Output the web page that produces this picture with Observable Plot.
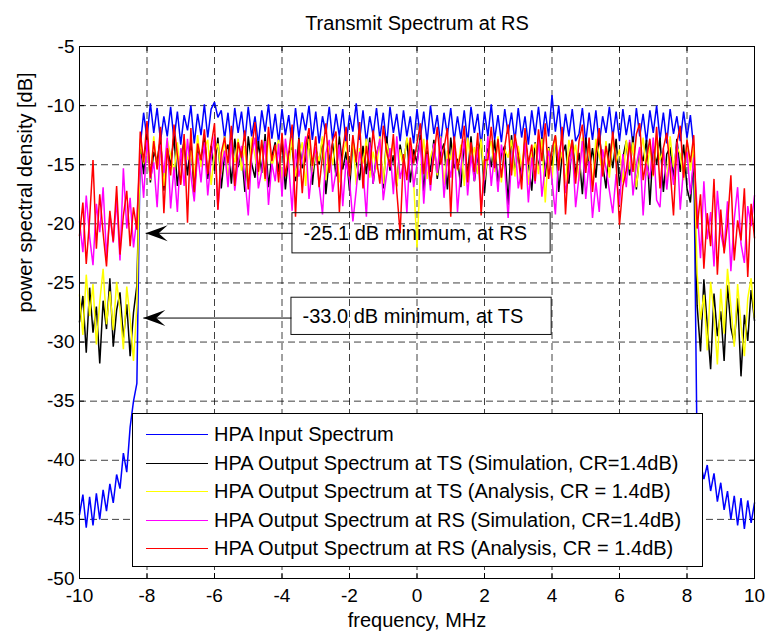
<!DOCTYPE html>
<html>
<head>
<meta charset="utf-8">
<script src="https://cdn.jsdelivr.net/npm/d3@7"></script>
<script src="https://cdn.jsdelivr.net/npm/@observablehq/plot@0.6"></script>
<style>
  html, body { margin: 0; padding: 0; background: #fff; }
  #wrap { position: relative; width: 769px; height: 632px; font-family: "Liberation Sans", Arial, Helvetica, sans-serif; }
  #legend { position: absolute; left: 132px; top: 413px; width: 569px; height: 152px; border: 1px solid #000; background: #fff; box-sizing: content-box; }
  .row { position: absolute; left: 0; height: 28px; }
  .sw { position: absolute; left: 13px; width: 62px; height: 0; border-top: 1px solid; }
  .lt { position: absolute; left: 81px; white-space: nowrap; font-size: 20px; color: #000; line-height: 28px; }
</style>
</head>
<body>
<div id="wrap"></div>
<script>
// ---------------- data ----------------
const titleText = "Transmit Spectrum at RS";
const xLabel = "frequency, MHz";
const yLabel = "power spectral density [dB]";
const xTicks = [-10, -8, -6, -4, -2, 0, 2, 4, 6, 8, 10];
const yTicks = [-50, -45, -40, -35, -30, -25, -20, -15, -10, -5];

// frequency sample grid, MHz (-10 ... 10, step 0.1)
const freqMHz = d3.range(0, 201).map(i => Math.round((-10 + i * 0.1) * 10) / 10);

// HPA Input Spectrum (blue)
const hpaInput = [
  -44.6,-42.9,-45.7,-43.1,-45.5,-42.8,-45.0,-42.5,-44.3,-42.0,-43.6,-41.2,-42.4,-39.4,-41.0,-37.2,-35.0,-33.5,
  -13.4,-10.6,-12.8,-9.8,-12.3,-10.2,-13.0,-10.9,-12.6,-10.1,
  -12.9,-10.5,-13.3,-10.8,-12.1,-10.0,-13.2,-10.7,-12.5,-9.9,
  -12.7,-10.3,-9.7,-11.0,-10.4,-12.8,-10.6,-13.4,-10.2,-12.3,
  -10.5,-13.0,-10.1,-12.6,-10.9,-13.3,-10.4,-12.2,-9.9,-12.8,
  -10.7,-13.1,-10.3,-12.5,-10.8,-13.4,-10.2,-12.7,-10.6,-12.1,
  -10.0,-12.9,-10.5,-13.2,-10.9,-12.4,-10.1,-13.0,-10.7,-12.6,
  -10.3,-13.3,-10.8,-12.2,-9.8,-12.9,-10.4,-13.1,-10.9,-12.5,
  -10.2,-12.8,-10.6,-13.4,-10.1,-12.3,-10.7,-13.0,-10.4,-12.6,
  -10.9,-13.2,-10.3,-12.7,-10.5,-13.1,-10.0,-12.4,-10.8,-13.3,
  -10.6,-12.5,-10.2,-13.0,-10.9,-12.8,-10.4,-13.2,-10.1,-12.3,
  -10.7,-13.4,-10.5,-12.6,-9.9,-12.9,-10.8,-13.1,-10.3,-12.4,
  -10.6,-13.0,-10.2,-12.7,-10.9,-13.3,-10.4,-12.5,-10.1,-12.8,
  -10.5,-12.6,-9.1,-12.2,-10.0,-13.2,-10.7,-12.6,-10.3,-13.0,
  -12.4,-10.2,-13.1,-10.6,-12.9,-10.4,-13.3,-10.9,-12.3,-10.1,
  -12.7,-10.5,-13.0,-10.3,-12.5,-10.8,-13.4,-10.2,-12.6,-10.7,
  -13.1,-10.4,-12.3,-10.0,-12.9,-10.6,-13.2,-10.3,-12.4,-10.9,
  -13.0,-10.5,-12.7,-10.8,-13.6,
  -39.5,-40.2,-41.6,-40.4,-42.6,-41.1,-43.5,-41.9,-44.2,-42.6,-45.0,-43.0,-45.5,-43.2,-45.8,-43.4,-45.3,-43.6
];

// HPA Output Spectrum at TS (Simulation) (black)
const outTsSim = [
  -28.3,-26.1,-30.9,-25.4,-29.2,-27.0,-31.8,-26.5,-28.9,-24.6,-30.4,-27.3,-25.8,-29.7,-26.8,-31.2,-27.5,-25.2,
  -13.2,-15.8,-12.4,-16.5,-13.9,-14.7,-12.8,-17.2,-13.5,-15.1,
  -12.6,-16.8,-14.2,-13.1,-15.9,-12.9,-17.4,-13.7,-14.8,-12.5,
  -16.2,-13.4,-15.5,-12.7,-17.0,-14.1,-13.3,-16.6,-12.8,-15.2,
  -13.8,-17.3,-12.6,-14.9,-16.1,-13.0,-15.7,-12.4,-16.9,-14.3,
  -13.1,-15.6,-12.9,-17.1,-14.0,-13.5,-16.4,-12.7,-15.3,-14.6,
  -12.5,-16.7,-13.6,-15.0,-12.8,-17.5,-14.4,-13.2,-16.0,-12.6,
  -15.4,-13.9,-17.2,-12.9,-14.7,-16.3,-13.4,-15.8,-12.7,-16.6,
  -14.1,-13.0,-17.0,-12.6,-15.5,-14.2,-16.8,-13.3,-15.1,-12.8,
  -16.5,-13.7,-14.9,-12.5,-17.3,-13.8,-15.6,-12.9,-16.2,-14.0,
  -13.2,-17.1,-12.7,-15.3,-14.5,-16.9,-13.0,-15.9,-12.6,-16.4,
  -14.3,-12.8,-17.4,-13.6,-15.2,-12.9,-16.7,-14.1,-13.4,-18.4,
  -12.5,-15.7,-13.9,-16.3,-12.8,-14.8,-17.2,-13.1,-15.4,-12.7,
  -16.0,-13.5,-15.1,-12.6,-17.3,-14.2,-13.3,-16.6,-12.9,-15.8,
  -14.0,-17.5,-12.7,-15.5,-13.6,-16.1,-12.5,-14.9,-17.0,-13.2,
  -15.3,-12.8,-16.8,-14.4,-13.0,-15.9,-12.6,-17.1,-13.8,-14.7,
  -12.9,-18.4,-13.4,-15.0,-12.7,-17.3,-14.1,-13.5,-16.2,-12.8,
  -15.6,-13.3,-17.0,-18.2,-14.5,
  -26.9,-30.8,-24.7,-28.6,-32.3,-25.9,-29.5,-27.4,-31.6,-25.2,-28.8,-30.1,-26.3,-32.9,-27.7,-29.9,-25.6,-28.2
];

// HPA Output Spectrum at TS (Analysis) (yellow)
const outTsAna = [
  -26.0,-29.4,-24.3,-27.8,-25.1,-30.2,-26.6,-23.8,-28.5,-25.7,-29.0,-24.9,-27.2,-30.6,-25.3,-28.0,-31.6,-26.9,
  -12.8,-14.9,-13.5,-16.3,-12.6,-15.4,-13.9,-16.8,-12.9,-14.2,
  -15.7,-13.1,-16.5,-12.7,-14.6,-13.8,-16.0,-12.5,-15.2,-13.6,
  -12.9,-16.7,-14.0,-13.2,-15.8,-12.6,-16.2,-13.7,-14.8,-12.8,
  -15.5,-13.4,-16.9,-12.7,-14.3,-15.9,-13.0,-16.4,-12.6,-15.1,
  -14.1,-12.9,-16.6,-13.5,-15.3,-12.7,-16.0,-14.4,-13.1,-16.8,
  -12.8,-15.6,-13.8,-14.7,-12.6,-16.3,-13.3,-15.0,-12.9,-16.5,
  -14.2,-13.0,-15.9,-12.7,-16.7,-13.6,-14.9,-12.8,-16.1,-13.9,
  -15.4,-12.6,-16.6,-13.2,-14.5,-12.9,-16.9,-13.7,-15.2,-12.7,
  -14.0,-16.4,-22.0,-15.7,-12.8,-16.2,-14.3,-13.4,-15.9,-12.6,
  -16.7,-13.8,-14.6,-12.9,-15.5,-13.3,-16.8,-12.7,-14.8,-13.5,
  -15.8,-12.8,-16.3,-14.1,-13.0,-15.6,-12.6,-16.5,-13.7,-14.4,
  -12.9,-16.0,-13.4,-15.3,-12.7,-16.7,-14.0,-13.2,-15.8,-12.8,
  -18.2,-13.6,-16.2,-12.6,-15.1,-13.9,-16.6,-12.9,-14.5,-13.3,
  -16.4,-12.7,-15.0,-13.5,-16.8,-12.8,-14.2,-15.7,-13.0,-16.1,
  -12.6,-14.8,-13.7,-16.5,-12.9,-15.4,-13.1,-16.9,-14.3,-12.7,
  -15.9,-13.4,-16.0,-12.8,-14.6,-13.8,-16.7,-12.6,-15.2,-13.5,
  -14.1,-16.3,-12.9,-15.5,-13.2,
  -24.2,-28.1,-26.0,-30.7,-24.9,-27.6,-31.9,-25.5,-29.3,-23.8,-27.0,-30.4,-25.1,-28.6,-31.2,-26.3,-24.6,-27.9
];

// HPA Output Spectrum at RS (Simulation) (magenta)
const outRsSim = [
  -19.8,-22.4,-17.6,-21.1,-23.5,-18.3,-20.7,-16.9,-22.8,-19.2,-21.6,-18.0,-23.1,-15.3,-20.4,-17.8,-22.0,-19.5,
  -14.1,-17.8,-12.9,-16.2,-14.8,-18.6,-13.3,-15.7,-12.7,-18.7,
  -15.2,-19.0,-13.6,-16.8,-12.8,-15.9,-18.1,-14.0,-16.5,-13.1,
  -17.6,-14.5,-12.6,-18.8,-15.3,-13.8,-16.9,-12.9,-17.2,-14.7,
  -13.4,-16.1,-19.3,-14.2,-12.7,-17.0,-15.5,-13.0,-18.4,-14.9,
  -16.4,-13.2,-17.7,-12.8,-15.0,-18.9,-13.7,-16.0,-14.4,-12.6,
  -17.9,-15.1,-13.5,-16.7,-19.2,-14.0,-12.9,-17.3,-15.6,-13.3,
  -18.5,-14.6,-16.3,-19.8,-17.1,-13.9,-15.4,-19.4,-13.1,-16.6,
  -14.3,-12.8,-18.0,-15.8,-13.6,-17.5,-12.6,-16.2,-14.8,-19.1,
  -13.4,-16.9,-15.0,-12.9,-18.3,-14.1,-17.2,-13.2,-15.7,-12.7,
  -17.8,-14.5,-16.1,-13.0,-19.0,-15.3,-12.8,-17.6,-14.2,-16.4,
  -13.5,-18.7,-15.9,-12.6,-16.8,-14.0,-17.3,-13.3,-15.2,-19.5,
  -14.6,-12.9,-17.0,-15.5,-13.1,-18.2,-14.4,-16.6,-12.7,-17.7,
  -15.1,-13.8,-16.3,-19.2,-14.0,-12.8,-17.4,-15.6,-13.4,-18.6,
  -16.0,-13.0,-17.9,-14.7,-19.5,-16.5,-19.0,-13.7,-15.3,-17.2,
  -19.1,-15.8,-18.4,-14.1,-16.9,-12.9,-17.6,-15.0,-13.5,-19.3,
  -14.9,-16.2,-12.7,-18.0,-18.6,-13.6,-17.1,-14.3,-16.7,-13.1,
  -18.8,-15.2,-13.9,-17.5,-14.4,
  -18.7,-22.9,-16.4,-21.3,-19.0,-23.6,-17.2,-20.8,-22.2,-18.1,-24.0,-19.6,-16.9,-21.7,-23.3,-18.5,-20.2,-17.6
];

// HPA Output Spectrum at RS (Analysis) (red)
const outRsAna = [
  -21.0,-18.2,-23.4,-19.6,-14.6,-22.1,-17.5,-20.8,-23.6,-18.9,-21.5,-16.8,-22.6,-19.3,-17.2,-21.9,-18.6,-20.5,
  -12.2,-14.8,-11.3,-16.1,-13.0,-15.4,-11.8,-19.1,-13.6,-15.9,
  -11.6,-14.2,-16.7,-12.4,-19.9,-11.9,-17.3,-13.2,-14.6,-12.0,
  -15.8,-13.4,-11.5,-18.8,-14.0,-12.7,-14.9,-11.7,-16.8,-13.1,
  -14.4,-12.1,-17.1,-13.8,-11.4,-15.6,-12.9,-16.2,-11.8,-14.7,
  -13.3,-16.5,-12.3,-16.0,-14.0,-11.6,-19.4,-12.8,-17.4,-13.5,
  -11.9,-15.1,-12.6,-16.9,-14.2,-11.5,-15.7,-13.0,-12.2,-19.0,
  -13.7,-11.8,-16.0,-12.5,-14.8,-11.4,-17.0,-13.4,-15.5,-12.1,
  -14.5,-16.6,-11.7,-13.9,-15.2,-12.4,-17.2,-20.8,-14.1,-16.3,
  -12.7,-14.9,-13.2,-11.5,-15.8,-12.9,-16.7,-14.3,-11.8,-15.0,
  -13.6,-11.9,-19.4,-12.6,-15.4,-14.0,-11.7,-16.5,-13.1,-15.6,
  -12.3,-19.3,-14.6,-14.6,-11.8,-15.3,-12.8,-16.1,-13.5,-11.6,
  -15.9,-12.4,-14.2,-17.1,-11.9,-15.0,-13.3,-16.4,-12.0,-14.7,
  -11.5,-16.2,-13.7,-12.5,-15.5,-11.8,-19.2,-14.4,-12.9,-16.6,
  -13.0,-11.6,-15.7,-12.7,-17.3,-14.1,-11.9,-16.0,-13.4,-15.2,
  -12.2,-14.9,-20.1,-16.8,-15.5,-13.1,-15.6,-12.4,-11.5,-16.3,
  -14.5,-12.8,-15.9,-11.8,-17.0,-13.6,-12.3,-15.4,-19.3,-13.2,
  -11.7,-16.1,-12.9,-14.8,-12.5,
  -20.4,-17.5,-23.8,-19.1,-21.9,-16.2,-24.3,-18.8,-22.5,-20.0,-15.9,-23.1,-19.7,-21.4,-17.0,-24.5,-18.3,-21.2
];

const seriesNames = [
  "HPA Input Spectrum",
  "HPA Output Spectrum at TS (Simulation, CR=1.4dB)",
  "HPA Output Spectrum at TS (Analysis, CR = 1.4dB)",
  "HPA Output Spectrum at RS (Simulation, CR=1.4dB)",
  "HPA Output Spectrum at RS (Analysis, CR = 1.4dB)"
];
const seriesColors = ["#0000ff", "#000000", "#ffff00", "#ff00ff", "#ff0000"];
const seriesValues = [hpaInput, outTsSim, outTsAna, outRsSim, outRsAna];

// annotation text boxes with arrows (data units)
const annotations = [
  {label: "-25.1 dB minimum, at RS", x1: -3.69, x2: 3.96, y1: -19.1, y2: -22.5, arrowY: -20.8, tipX: -8.04, textX: -3.36},
  {label: "-33.0 dB minimum, at TS", x1: -3.72, x2: 3.99, y1: -26.25, y2: -29.4, arrowY: -27.97, tipX: -8.11, textX: -3.39}
];

// ---------------- chart ----------------
const W = 769, H = 632;
const mL = 79, mR = 15, mT = 46, mB = 54;
const xDom = [-10, 10], yDom = [-50, -5];
const tickPx = 5;
const tx = tickPx * (xDom[1] - xDom[0]) / (W - mL - mR);
const ty = tickPx * (yDom[1] - yDom[0]) / (H - mT - mB);

const arrowHead = {
  draw(context) {
    context.moveTo(0, 0);
    context.lineTo(22, -8);
    context.lineTo(13, 0);
    context.lineTo(22, 8);
    context.closePath();
  }
};

const lineMarks = seriesValues.map((vals, k) =>
  Plot.line(freqMHz.map((f, i) => ({f, v: vals[i]})), {
    x: "f", y: "v", stroke: seriesColors[k], strokeWidth: 1.5, strokeLinejoin: "miter"
  })
);

const fmt = d => String(d);

const chart = Plot.plot({
  width: W, height: H,
  marginLeft: mL, marginRight: mR, marginTop: mT, marginBottom: mB,
  style: {fontFamily: "'Liberation Sans', Arial, Helvetica, sans-serif", fontSize: "19px", background: "#fff", color: "#000", overflow: "visible"},
  x: {domain: xDom, ticks: xTicks, tickSize: 0, tickPadding: 10, tickFormat: fmt, label: null},
  y: {domain: yDom, ticks: yTicks, tickSize: 0, tickPadding: 5, tickFormat: fmt, label: null},
  marks: [
    // dashed grid
    Plot.ruleX(xTicks, {stroke: "#000", strokeOpacity: 0.75, strokeDasharray: "7,4", strokeWidth: 1}),
    Plot.ruleY(yTicks, {stroke: "#000", strokeOpacity: 0.75, strokeDasharray: "7,4", strokeWidth: 1}),
    // inward tick marks on all four sides
    Plot.ruleX(xTicks, {y1: yDom[0], y2: yDom[0] + ty, stroke: "#000"}),
    Plot.ruleX(xTicks, {y1: yDom[1], y2: yDom[1] - ty, stroke: "#000"}),
    Plot.ruleY(yTicks, {x1: xDom[0], x2: xDom[0] + tx, stroke: "#000"}),
    Plot.ruleY(yTicks, {x1: xDom[1], x2: xDom[1] - tx, stroke: "#000"}),
    // spectra
    ...lineMarks,
    // annotations
    Plot.rect(annotations, {x1: "x1", x2: "x2", y1: "y1", y2: "y2", fill: "none", stroke: "#111", strokeWidth: 1}),
    Plot.link(annotations, {x1: "tipX", x2: "x1", y1: "arrowY", y2: "arrowY", stroke: "#000", strokeWidth: 1}),
    Plot.dot(annotations, {x: "tipX", y: "arrowY", symbol: arrowHead, r: 5, fill: "#000", stroke: "none"}),
    Plot.text(annotations, {x: "textX", y: d => (d.y1 + d.y2) / 2, text: "label", textAnchor: "start", fontSize: 20, fill: "#000"}),
    Plot.frame({stroke: "#000", strokeWidth: 1}),
    // title & axis labels
    Plot.text([titleText], {text: d => d, frameAnchor: "top", lineAnchor: "bottom", dy: -17, fontSize: 20}),
    Plot.text([xLabel], {text: d => d, frameAnchor: "bottom", lineAnchor: "bottom", dy: 48, fontSize: 20}),
    Plot.text([yLabel], {text: d => d, frameAnchor: "left", rotate: -90, dx: -54, fontSize: 20})
  ]
});

const wrap = document.getElementById("wrap");
wrap.appendChild(chart);

// legend (opaque box over the plot, as in the original)
const legend = document.createElement("div");
legend.id = "legend";
seriesNames.forEach((name, i) => {
  const row = document.createElement("div");
  row.className = "row";
  row.style.top = (6 + i * 28.5) + "px";
  row.style.width = "100%";
  const sw = document.createElement("div");
  sw.className = "sw";
  sw.style.borderTopColor = seriesColors[i];
  sw.style.top = "14px";
  const lt = document.createElement("div");
  lt.className = "lt";
  lt.textContent = name;
  lt.style.top = "0px";
  row.appendChild(sw);
  row.appendChild(lt);
  legend.appendChild(row);
});
wrap.appendChild(legend);
</script>
</body>
</html>
